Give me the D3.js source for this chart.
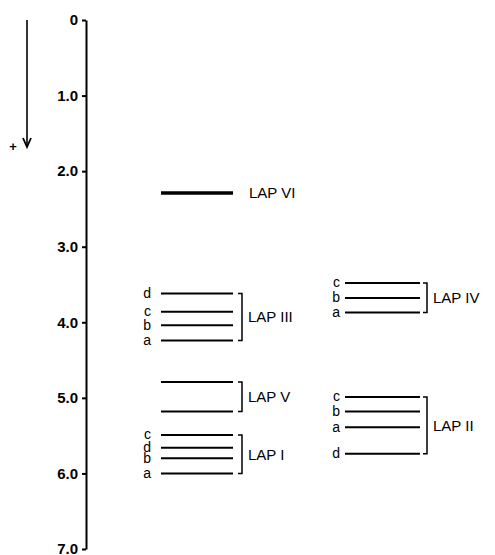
<!DOCTYPE html>
<html>
<head>
<meta charset="utf-8">
<script src="https://cdn.jsdelivr.net/npm/d3@7"></script>
<style>
  body { margin: 0; background: #fff; }
  text { font-family: "Liberation Sans", Arial, Helvetica, sans-serif; fill: #000; }
</style>
</head>
<body>
<svg id="chart" width="495" height="555"></svg>
<script>
// ---- data ----
const tickValues = [0, 1, 2, 3, 4, 5, 6, 7];
const tickLabels = ["0", "1.0", "2.0", "3.0", "4.0", "5.0", "6.0", "7.0"];

const groupNames   = ["LAP VI", "LAP III", "LAP V", "LAP I", "LAP IV", "LAP II"];
const groupColumn  = [0, 0, 0, 0, 1, 1];

const bandGroup  = ["LAP VI",
                    "LAP III", "LAP III", "LAP III", "LAP III",
                    "LAP V", "LAP V",
                    "LAP I", "LAP I", "LAP I", "LAP I",
                    "LAP IV", "LAP IV", "LAP IV",
                    "LAP II", "LAP II", "LAP II", "LAP II"];
const bandLetter = ["",
                    "d", "c", "b", "a",
                    "", "",
                    "c", "d", "b", "a",
                    "c", "b", "a",
                    "c", "b", "a", "d"];
const bandValue  = [2.29,
                    3.62, 3.86, 4.04, 4.24,
                    4.79, 5.18,
                    5.49, 5.66, 5.80, 6.00,
                    3.48, 3.68, 3.87,
                    4.99, 5.18, 5.39, 5.74];

// ---- layout ----
const svg = d3.select("#chart");
const y = d3.scaleLinear().domain([0, 7]).range([20, 549]);
const axisX = 86;

const cols = [
  { x0: 161, x1: 233, letterX: 151, bracketX: 242 },
  { x0: 345, x1: 420, letterX: 340, bracketX: 427 }
];

// axis
const axis = d3.axisLeft(y).tickValues(tickValues)
  .tickFormat((d, i) => tickLabels[i]).tickSize(4).tickSizeOuter(0).tickPadding(4);
const gAxis = svg.append("g").attr("transform", `translate(${axisX},0)`).call(axis);
gAxis.select(".domain").attr("stroke", "#000").attr("stroke-width", 2);
gAxis.selectAll(".tick line").attr("stroke", "#000").attr("stroke-width", 2);
gAxis.selectAll(".tick text")
  .style("font-family", "'Liberation Sans', Arial, sans-serif")
  .style("font-size", "15px").style("font-weight", "bold").attr("fill", "#000");

// direction arrow
svg.append("line").attr("x1", 27).attr("x2", 27).attr("y1", y(0)).attr("y2", 147)
  .attr("stroke", "#000").attr("stroke-width", 1.6);
svg.append("path").attr("d", "M23,138 L27,147 L31,138").attr("fill", "none")
  .attr("stroke", "#000").attr("stroke-width", 1.8);
svg.append("text").attr("x", 13).attr("y", 151).attr("text-anchor", "middle")
  .style("font-size", "13px").style("font-weight", "bold").text("+");

// bands
const bands = bandValue.map((v, i) => ({
  v, letter: bandLetter[i], group: bandGroup[i],
  col: cols[groupColumn[groupNames.indexOf(bandGroup[i])]]
}));

svg.append("g").selectAll("line").data(bands).join("line")
  .attr("x1", d => d.col.x0).attr("x2", d => d.col.x1)
  .attr("y1", d => y(d.v)).attr("y2", d => y(d.v))
  .attr("stroke", "#000")
  .attr("stroke-width", d => d.group === "LAP VI" ? 3.5 : 2);

svg.append("g").selectAll("text").data(bands.filter(d => d.letter)).join("text")
  .attr("x", d => d.col.letterX).attr("y", d => y(d.v))
  .attr("dy", "0.3em").attr("text-anchor", "end")
  .style("font-size", "14px").text(d => d.letter);

// brackets and group labels
groupNames.forEach((g, gi) => {
  const vals = bands.filter(b => b.group === g).map(b => b.v);
  const col = cols[groupColumn[gi]];
  const top = y(d3.min(vals)), bot = y(d3.max(vals));
  let labelX = col.bracketX + 6;
  if (vals.length > 1) {
    svg.append("path")
      .attr("d", `M${col.bracketX - 4},${top} H${col.bracketX} V${bot} H${col.bracketX - 4}`)
      .attr("fill", "none").attr("stroke", "#000").attr("stroke-width", 1.5);
  } else {
    labelX = col.x1 + 16;
  }
  svg.append("text").attr("x", labelX).attr("y", (top + bot) / 2)
    .attr("dy", "0.36em").style("font-size", "15px").text(g);
});
</script>
</body>
</html>
